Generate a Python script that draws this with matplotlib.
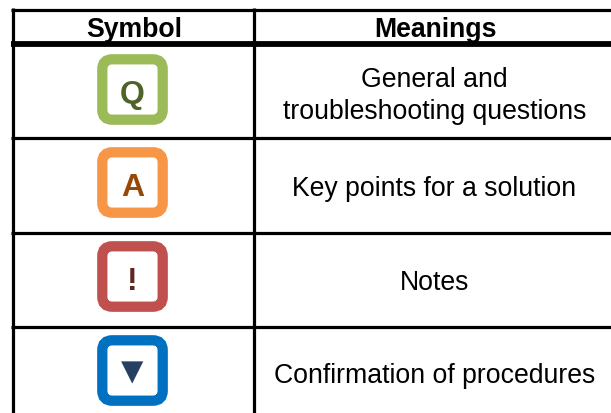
"""Symbol legend table: coloured rounded badges with their meanings."""

from __future__ import annotations

import matplotlib

matplotlib.use("Agg")
import matplotlib.pyplot as plt
from matplotlib.patches import FancyBboxPatch

WIDTH, HEIGHT = 611, 414
FONT = "Liberation Sans"

HEADERS = ["Symbol", "Meanings"]
SYMBOLS = ["Q", "A", "!", "▼"]
MEANINGS = [
    "General and\ntroubleshooting questions",
    "Key points for a solution",
    "Notes",
    "Confirmation of procedures",
]
RING_COLORS = ["#9BBB59", "#F79646", "#C0504D", "#0070C0"]
SYMBOL_COLORS = ["#4F6228", "#984806", "#632523", "#254061"]


def draw_grid(ax) -> None:
    # thin rules, then the heavier one under the header; right side stays open
    for y in (10.5, 138.5, 233.5, 327.5):
        ax.plot([11, WIDTH], [y, y], color="black", lw=2.3, solid_capstyle="butt")
    ax.plot([11, WIDTH], [45, 45], color="black", lw=4.2, solid_capstyle="butt")
    for x in (12.5, 253.5):
        ax.plot([x, x], [9, HEIGHT], color="black", lw=2.3, solid_capstyle="butt")


def draw_badge(ax, y_top, ring, symbol, color) -> None:
    box = FancyBboxPatch(
        (102.3, y_top + 5.3), 60.4, 60.4,
        boxstyle="round,pad=0,rounding_size=10",
        facecolor="white", edgecolor=ring, linewidth=7.4,
    )
    ax.add_patch(box)
    yc = y_top + 35.5
    if symbol == "▼":
        ax.text(132.5, yc + 1, symbol, fontsize=21, color=color,
                family="DejaVu Sans", ha="center", va="center")
    else:
        ax.text(132.3, yc + 1, symbol, fontsize=23, fontweight="bold", color=color,
                family=FONT, ha="center", va="center_baseline")


def main() -> None:
    fig = plt.figure(figsize=(WIDTH / 100, HEIGHT / 100), dpi=100)
    ax = fig.add_axes([0, 0, 1, 1])
    ax.set_xlim(0, WIDTH)
    ax.set_ylim(HEIGHT, 0)
    ax.axis("off")

    draw_grid(ax)

    for x, label in zip((134.5, 435), HEADERS, strict=True):
        ax.text(x, 27, label, fontsize=19.2, fontweight="bold", family=FONT,
                ha="center", va="center_baseline")

    badge_tops = (55, 148, 242, 336)
    text_centers = (96, 189, 283, 376)
    for i, top in enumerate(badge_tops):
        draw_badge(ax, top, RING_COLORS[i], SYMBOLS[i], SYMBOL_COLORS[i])
        ax.text(434.5, text_centers[i], MEANINGS[i], fontsize=19.2, family=FONT,
                ha="center", va="center", linespacing=1.3)

    fig.savefig("out.png", dpi=100)
    plt.close(fig)


if __name__ == "__main__":
    main()
